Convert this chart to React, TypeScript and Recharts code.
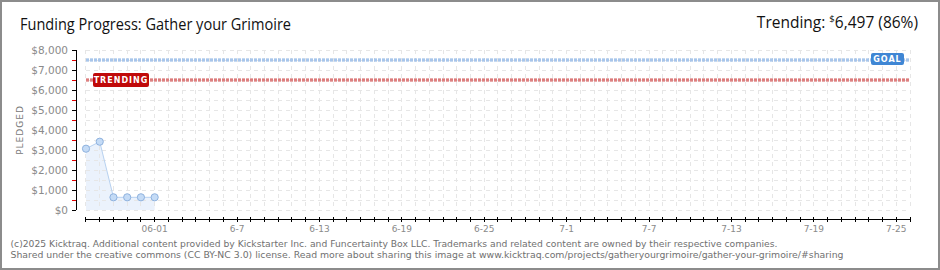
import React from 'react';
import { ComposedChart, Area, Line, XAxis, YAxis, ReferenceLine } from 'recharts';

// ---- data ----
const pledgeDates = ['05-27', '05-28', '05-29', '05-30', '05-31', '06-01'];
const pledgeDays = [0, 1, 2, 3, 4, 5];
const pledgedValues = [3065, 3415, 635, 635, 635, 635];

const xTickDays = [5, 11, 17, 23, 29, 35, 41, 47, 53, 59];
const xTickLabels = ['06-01', '6-7', '6-13', '6-19', '6-25', '7-1', '7-7', '7-13', '7-19', '7-25'];

const yTickValues = [0, 1000, 2000, 3000, 4000, 5000, 6000, 7000, 8000];
const yTickLabels = ['$0', '$1,000', '$2,000', '$3,000', '$4,000', '$5,000', '$6,000', '$7,000', '$8,000'];

const GOAL = 7500;
const TRENDING = 6497;
const TRENDING_PCT = 86;
const LAST_DAY = 60;
const Y_MAX = 8000;
const Y_STEP = 500;

const X_MIN = -0.728;
const Y_MIN = -450;

const data = pledgeDays.map((d, i) => ({ day: d, date: pledgeDates[i], pledged: pledgedValues[i] }));
const allDays = Array.from({ length: LAST_DAY + 1 }, (_, i) => i);
const halfSteps = Array.from({ length: Y_MAX / Y_STEP + 1 }, (_, i) => i * Y_STEP);

const GRID = '#e6e6e6';
const LABEL_GRAY = '#8a8a8a';

const XTick = (props: any) => {
  const { x, y, payload } = props;
  const idx = xTickDays.indexOf(payload.value);
  return (
    <g>
      <line x1={x} x2={x} y1={y - 2} y2={y + 3} stroke="#000" shapeRendering="crispEdges" />
      {idx >= 0 && (
        <text x={x} y={y + 13} textAnchor="middle" fontFamily="'DejaVu Sans', sans-serif" fontSize={9} fill={LABEL_GRAY}>
          {xTickLabels[idx]}
        </text>
      )}
    </g>
  );
};

const YTick = (props: any) => {
  const { x, y, payload } = props;
  const idx = yTickValues.indexOf(payload.value);
  const major = idx >= 0;
  return (
    <g>
      <line x1={x - 4} x2={x} y1={y} y2={y} stroke={major ? '#000' : '#e00000'} shapeRendering="crispEdges" />
      {major && (
        <text x={x - 8} y={y} dy="0.36em" textAnchor="end" fontFamily="'DejaVu Sans', sans-serif" fontSize={10.5} fill={LABEL_GRAY}>
          {yTickLabels[idx]}
        </text>
      )}
    </g>
  );
};

const PledgedLabel = (props: any) => {
  const vb = props.viewBox || { x: 2, y: 50, width: 74, height: 169 };
  const cx = vb.x + 18;
  const cy = vb.y + 80;
  return (
    <text
      x={cx}
      y={cy}
      transform={`rotate(-90 ${cx} ${cy})`}
      textAnchor="middle"
      dominantBaseline="central"
      fontFamily="'DejaVu Sans', sans-serif"
      fontSize={9}
      letterSpacing={1}
      fill="#777"
    >
      PLEDGED
    </text>
  );
};

const GoalTag = (props: any) => {
  const vb = props.viewBox;
  if (!vb) return null;
  const bx = vb.x + vb.width - 39;
  const by = vb.y - 7;
  return (
    <g>
      <rect x={bx} y={by} width={33} height={12} rx={2} fill="#3f86d4" />
      <text x={bx + 16.5} y={by + 6} dy="0.36em" textAnchor="middle" fontFamily="'DejaVu Sans', sans-serif" fontWeight="bold" fontSize={8} letterSpacing={1} fill="#fff">
        GOAL
      </text>
    </g>
  );
};

const TrendTag = (props: any) => {
  const vb = props.viewBox;
  if (!vb) return null;
  const bx = vb.x + 7;
  const by = vb.y - 7;
  return (
    <g>
      <rect x={bx} y={by} width={56} height={14} rx={2} fill="#c00a0a" />
      <text x={bx + 28} y={by + 7} dy="0.36em" textAnchor="middle" fontFamily="'DejaVu Sans', sans-serif" fontWeight="bold" fontSize={8} letterSpacing={1} fill="#fff">
        TRENDING
      </text>
    </g>
  );
};

export default function App() {
  return (
    <div style={{ position: 'absolute', left: 0, top: 0, width: 940, height: 270, background: '#fff', overflow: 'hidden' }}>
      <ComposedChart width={940} height={270} data={data} margin={{ top: 50, right: 30, bottom: 21, left: 2 }}>
        <XAxis
          dataKey="day"
          type="number"
          domain={[X_MIN, LAST_DAY]}
          ticks={allDays}
          interval={0}
          allowDataOverflow
          axisLine={false}
          tickLine={false}
          tickSize={0}
          tickMargin={0}
          height={30}
          tick={<XTick />}
        />
        <YAxis
          type="number"
          domain={[Y_MIN, Y_MAX]}
          ticks={halfSteps}
          interval={0}
          allowDataOverflow
          axisLine={false}
          tickLine={false}
          tickSize={0}
          tickMargin={0}
          width={74}
          tick={<YTick />}
          label={<PledgedLabel />}
        />
        {allDays.map((d) => (
          <ReferenceLine
            key={`v${d}`}
            segment={[{ x: d, y: Y_MAX }, { x: d, y: 0 }]}
            stroke={GRID}
            strokeDasharray="4 4"
            shapeRendering="crispEdges"
            ifOverflow="visible"
          />
        ))}
        {halfSteps.map((v) => (
          <ReferenceLine
            key={`h${v}`}
            segment={[{ x: 0, y: v }, { x: LAST_DAY, y: v }]}
            stroke={GRID}
            strokeDasharray="4 4"
            shapeRendering="crispEdges"
            ifOverflow="visible"
          />
        ))}
        <Area
          dataKey="pledged"
          type="linear"
          baseValue={0}
          stroke="none"
          fill="#e2edfb"
          fillOpacity={0.7}
          dot={false}
          activeDot={false}
          isAnimationActive={false}
        />
        <Line
          dataKey="pledged"
          type="linear"
          stroke="#b7d1f0"
          strokeWidth={1}
          dot={{ r: 3.6, fill: '#c4dbf6', fillOpacity: 1, stroke: '#8fb2de', strokeWidth: 1 }}
          activeDot={false}
          isAnimationActive={false}
        />
        <ReferenceLine segment={[{ x: X_MIN, y: 0 }, { x: X_MIN, y: Y_MAX }]} stroke="#000" shapeRendering="crispEdges" ifOverflow="visible" />
        <ReferenceLine segment={[{ x: 0, y: Y_MIN }, { x: LAST_DAY, y: Y_MIN }]} stroke="#000" shapeRendering="crispEdges" ifOverflow="visible" />
        <ReferenceLine segment={[{ x: 0, y: GOAL }, { x: LAST_DAY, y: GOAL }]} stroke="#8cb3e3" strokeWidth={3} strokeDasharray="3 1" ifOverflow="visible" />
        <ReferenceLine segment={[{ x: 0, y: GOAL }, { x: LAST_DAY, y: GOAL }]} stroke="#c3d8f2" strokeWidth={1} strokeDasharray="3 1" ifOverflow="visible" label={<GoalTag />} />
        <ReferenceLine segment={[{ x: 0, y: TRENDING }, { x: LAST_DAY, y: TRENDING }]} stroke="#d05858" strokeWidth={3} strokeDasharray="3 1" ifOverflow="visible" />
        <ReferenceLine segment={[{ x: 0, y: TRENDING }, { x: LAST_DAY, y: TRENDING }]} stroke="#eaa5a5" strokeWidth={1} strokeDasharray="3 1" ifOverflow="visible" label={<TrendTag />} />
      </ComposedChart>
      <svg width={940} height={270} style={{ position: 'absolute', left: 0, top: 0, pointerEvents: 'none' }}>
        <text x={20} y={29.5} fontFamily="'Open Sans', sans-serif" fontSize={15.5} fill="#111" textLength={271} lengthAdjust="spacingAndGlyphs">
          Funding Progress: Gather your Grimoire
        </text>
        <text x={918} y={27.5} textAnchor="end" fontFamily="'Open Sans', sans-serif" fontSize={15.5} fill="#111">
          Trending:{'  '}
          <tspan fontSize={9.5} dy={-6}>$</tspan>
          <tspan dy={6}>{TRENDING.toLocaleString('en-US')} ({TRENDING_PCT}%)</tspan>
        </text>
        <text x={10.5} y={246.5} fontFamily="'DejaVu Sans', sans-serif" fontSize={9} fill="#707070" textLength={767} lengthAdjust="spacingAndGlyphs">
          (c)2025 Kicktraq. Additional content provided by Kickstarter Inc. and Funcertainty Box LLC. Trademarks and related content are owned by their respective companies.
        </text>
        <text x={10.5} y={257.5} fontFamily="'DejaVu Sans', sans-serif" fontSize={9} fill="#707070" textLength={833} lengthAdjust="spacingAndGlyphs">
          Shared under the creative commons (CC BY-NC 3.0) license. Read more about sharing this image at www.kicktraq.com/projects/gatheryourgrimoire/gather-your-grimoire/#sharing
        </text>
      </svg>
      <div style={{ position: 'absolute', left: 0, top: 0, width: 940, height: 270, boxSizing: 'border-box', border: '2px solid #8c8c8c', pointerEvents: 'none' }} />
    </div>
  );
}
